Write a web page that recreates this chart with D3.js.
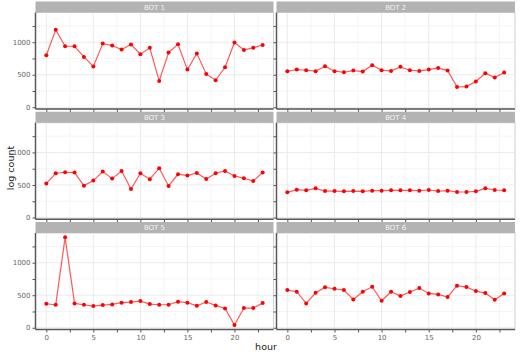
<!DOCTYPE html>
<html>
<head>
<meta charset="utf-8">
<script src="https://cdn.jsdelivr.net/npm/d3@7"></script>
<style>
  body { margin: 0; background: #fff; }
  text { font-family: "DejaVu Sans", sans-serif; }
</style>
</head>
<body>
<svg id="canvas" width="521" height="354"></svg>
<script>
// Data
var hours = d3.range(0, 24);
var bots = ["BOT 1", "BOT 2", "BOT 3", "BOT 4", "BOT 5", "BOT 6"];
var bot1 = [800, 1190, 938, 938, 774, 626, 979, 949, 887, 964, 815, 913, 405, 841, 969, 579, 826, 513, 415, 615, 995, 882, 913, 959];
var bot2 = [554, 579, 569, 554, 631, 554, 538, 564, 549, 646, 569, 559, 621, 569, 559, 579, 605, 564, 313, 318, 395, 523, 456, 533];
var bot3 = [521, 680, 696, 691, 490, 567, 706, 598, 716, 438, 680, 588, 758, 485, 665, 644, 686, 593, 680, 716, 639, 603, 562, 691];
var bot4 = [387, 428, 418, 448, 407, 407, 402, 407, 402, 412, 412, 418, 418, 418, 412, 423, 407, 412, 392, 392, 402, 448, 423, 418];
var bot5 = [369, 354, 1390, 374, 354, 333, 349, 359, 385, 395, 410, 364, 354, 354, 400, 385, 338, 395, 344, 297, 41, 303, 303, 379];
var bot6 = [579, 554, 374, 538, 621, 600, 579, 436, 554, 631, 415, 554, 487, 549, 610, 528, 513, 472, 646, 626, 564, 533, 431, 528];
var series = [bot1, bot2, bot3, bot4, bot5, bot6];

var xMajor = [0, 5, 10, 15, 20];
var xMinor = [2.5, 7.5, 12.5, 17.5, 22.5];
var yMajor = [0, 500, 1000];
var yMinor = [250, 750, 1250];

var svg = d3.select("#canvas");

// Panel layout
var colX = [35.5, 276.5];
var panelW = [238, 238.5];
var rowTop = [1.5, 111.75, 222];
var stripH = 11;
var plotH = 96.5;

var x = d3.scaleLinear().domain([-1.15, 24.15]);
var y = d3.scaleLinear().domain([-27, 1457]).range([plotH, 0]);

var line = d3.line()
    .x(function(d, i){ return x(hours[i]); })
    .y(function(d){ return y(d); });

series.forEach(function(vals, k){
    var row = Math.floor(k / 2), col = k % 2;
    var w = panelW[col];
    x.range([0, w]);

    var g = svg.append("g")
        .attr("transform", "translate(" + colX[col] + "," + (rowTop[row] + stripH) + ")");

    // strip
    svg.append("rect")
        .attr("x", colX[col]).attr("y", rowTop[row])
        .attr("width", w).attr("height", stripH)
        .attr("fill", "#b3b3b3");
    svg.append("text")
        .attr("x", colX[col] + w / 2).attr("y", rowTop[row] + stripH / 2 + 2.5)
        .attr("text-anchor", "middle")
        .attr("font-size", 7)
        .attr("fill", "#f2f2f2")
        .text(bots[k]);

    // panel background and grid
    g.append("rect")
        .attr("width", w).attr("height", plotH)
        .attr("fill", "#fff")
        .attr("stroke", "#d0d0d0").attr("stroke-width", 1);

    g.selectAll(".vminor").data(xMinor).enter().append("line")
        .attr("x1", function(d){ return x(d); }).attr("x2", function(d){ return x(d); })
        .attr("y1", 0).attr("y2", plotH)
        .attr("stroke", "#f2f2f2").attr("stroke-width", 0.8);
    g.selectAll(".hminor").data(yMinor).enter().append("line")
        .attr("y1", function(d){ return y(d); }).attr("y2", function(d){ return y(d); })
        .attr("x1", 0).attr("x2", w)
        .attr("stroke", "#f2f2f2").attr("stroke-width", 0.8);
    g.selectAll(".vmajor").data(xMajor).enter().append("line")
        .attr("x1", function(d){ return x(d); }).attr("x2", function(d){ return x(d); })
        .attr("y1", 0).attr("y2", plotH)
        .attr("stroke", "#ebebeb").attr("stroke-width", 1);
    g.selectAll(".hmajor").data(yMajor).enter().append("line")
        .attr("y1", function(d){ return y(d); }).attr("y2", function(d){ return y(d); })
        .attr("x1", 0).attr("x2", w)
        .attr("stroke", "#ebebeb").attr("stroke-width", 1);

    // axes
    var xAxisCall = d3.axisBottom(x)
        .tickValues(xMajor.concat(xMinor))
        .tickSize(3).tickPadding(3)
        .tickFormat(function(d){ return (row === 2 && d % 5 === 0) ? d : ""; });
    var xAxis = g.append("g")
        .attr("transform", "translate(0," + plotH + ")")
        .call(xAxisCall);
    var yAxisCall = d3.axisLeft(y)
        .tickValues(yMajor.concat(yMinor))
        .tickSize(3).tickPadding(2)
        .tickFormat(function(d){ return (col === 0 && d % 500 === 0) ? d : ""; });
    var yAxis = g.append("g").call(yAxisCall);

    [xAxis, yAxis].forEach(function(a){
        a.select(".domain").remove();
        a.selectAll(".tick line").attr("stroke", "#555");
        a.selectAll(".tick text").attr("fill", "#666").attr("font-size", 7)
            .attr("font-family", "DejaVu Sans, sans-serif");
    });

    g.append("line")
        .attr("x1", 0).attr("x2", w).attr("y1", plotH).attr("y2", plotH)
        .attr("stroke", "#595959").attr("stroke-width", 1.5);
    g.append("line")
        .attr("x1", 0).attr("x2", 0).attr("y1", 0).attr("y2", plotH)
        .attr("stroke", "#595959").attr("stroke-width", 1.5);

    // data
    g.append("path")
        .datum(vals)
        .attr("d", line)
        .attr("fill", "none")
        .attr("stroke", "#ff0000")
        .attr("stroke-opacity", 0.65)
        .attr("stroke-width", 1.2);
    g.selectAll("circle").data(vals).enter().append("circle")
        .attr("cx", function(d, i){ return x(hours[i]); })
        .attr("cy", function(d){ return y(d); })
        .attr("r", 2)
        .attr("fill", "#ff0000");
});

// Axis titles
svg.append("text")
    .attr("transform", "translate(14,168) rotate(-90)")
    .attr("text-anchor", "middle")
    .attr("font-size", 9.5)
    .attr("fill", "#1a1a1a")
    .text("log count");
svg.append("text")
    .attr("x", 266).attr("y", 350)
    .attr("text-anchor", "middle")
    .attr("font-size", 9.5)
    .attr("fill", "#1a1a1a")
    .text("hour");
</script>
</body>
</html>
